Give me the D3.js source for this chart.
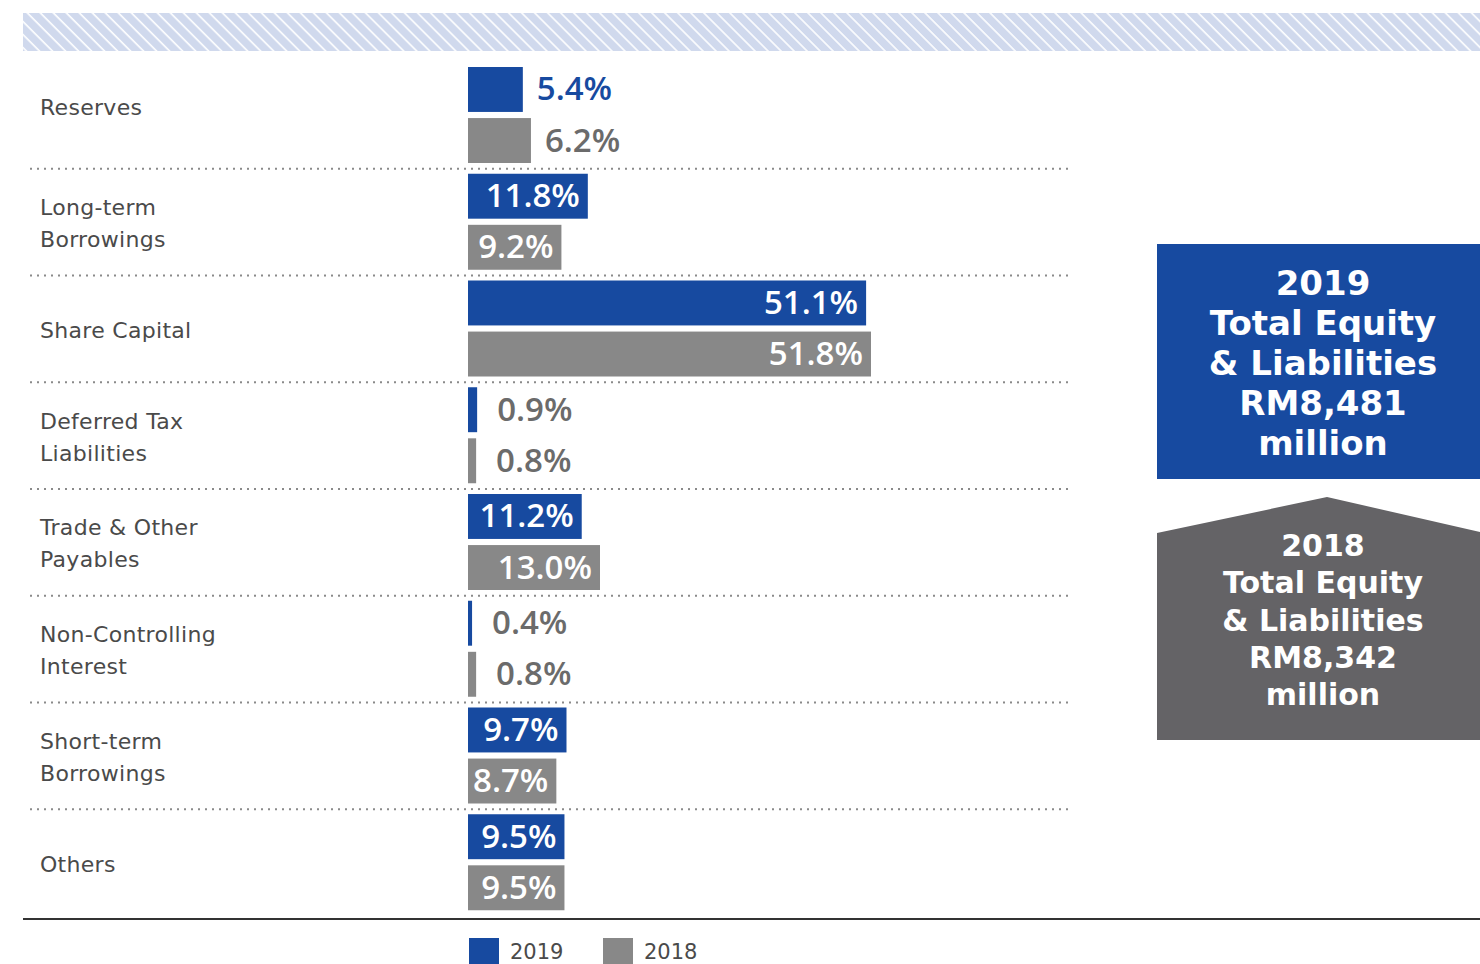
<!DOCTYPE html>
<html>
<head>
<meta charset="utf-8">
<script src="https://cdn.jsdelivr.net/npm/d3@7"></script>
<style>
  body { margin: 0; background: #fff; }
  svg { display: block; font-family: "DejaVu Sans", sans-serif; }
</style>
</head>
<body>
<div id="chart"></div>
<script>
// data
var categories = ["Reserves", "Long-term\nBorrowings", "Share Capital", "Deferred Tax\nLiabilities",
                  "Trade & Other\nPayables", "Non-Controlling\nInterest", "Short-term\nBorrowings", "Others"];
var values2019 = [5.4, 11.8, 51.1, 0.9, 11.2, 0.4, 9.7, 9.5];
var values2018 = [6.2, 9.2, 51.8, 0.8, 13.0, 0.8, 8.7, 9.5];
var years = ["2019", "2018"];
var totals = ["RM8,481", "RM8,342"];

var width = 1480, height = 964;
var blue = "#174aa0", grey = "#888888", dark = "#646366", labelGrey = "#6b6b6b";

var svg = d3.select("#chart").append("svg")
    .attr("width", width)
    .attr("height", height);

// hatched band on top
var defs = svg.append("defs");
var pat = defs.append("pattern")
    .attr("id", "hatch")
    .attr("patternUnits", "userSpaceOnUse")
    .attr("width", 9.2)
    .attr("height", 9.2)
    .attr("patternTransform", "rotate(-45)");
pat.append("rect").attr("width", 9.2).attr("height", 9.2).attr("fill", "#d0d9ed");
pat.append("line").attr("x1", 1).attr("x2", 1).attr("y1", 0).attr("y2", 9.2)
    .attr("stroke", "#fff").attr("stroke-width", 1.6);

svg.append("rect")
    .attr("x", 23).attr("y", 13)
    .attr("width", width - 23).attr("height", 38)
    .attr("fill", "url(#hatch)");

// scales
var y = d3.scaleBand().domain(categories).range([62, 916]);
var ySub = d3.scaleBand().domain(years).range([5, 101]).paddingInner(0.12);
// the original artwork stretches the small bars, so the scale is piecewise
var x = d3.scaleLinear().domain([0, 13, 51.8]).range([468, 600, 871]);

var fmt = function(v) { return d3.format(".1f")(v) + "%"; };

// dotted separators
svg.selectAll(".sep")
  .data(categories.slice(1))
  .enter().append("line")
    .attr("class", "sep")
    .attr("x1", 30).attr("x2", 1072)
    .attr("y1", function(d) { return y(d); })
    .attr("y2", function(d) { return y(d); })
    .attr("stroke", "#8a8a8a")
    .attr("stroke-width", 2)
    .attr("stroke-dasharray", "2,5");

// category labels
var lab = svg.selectAll(".cat")
  .data(categories)
  .enter().append("text")
    .attr("class", "cat")
    .attr("x", 40)
    .attr("fill", "#4a4a4a")
    .style("font-size", "22px")
    .style("letter-spacing", "0.3px");

lab.each(function(d, k) {
  var lines = d.split("\n");
  // first row label sits a little higher in the original
  var cy = y(d) + y.bandwidth() / 2 + (k === 0 ? -8 : 1);
  var t = d3.select(this);
  lines.forEach(function(l, i) {
    t.append("tspan")
      .attr("x", 40)
      .attr("y", cy + (i - (lines.length - 1) / 2) * 32 + 8)
      .text(l);
  });
});

// bars
var rows = categories.map(function(c, i) {
  return [
    {cat: c, year: "2019", value: values2019[i]},
    {cat: c, year: "2018", value: values2018[i]}
  ];
});
var flat = [].concat.apply([], rows);

svg.selectAll(".bar")
  .data(flat)
  .enter().append("rect")
    .attr("class", "bar")
    .attr("x", x(0))
    .attr("y", function(d) { return y(d.cat) + ySub(d.year); })
    .attr("width", function(d) { return x(d.value) - x(0); })
    .attr("height", ySub.bandwidth())
    .attr("fill", function(d) { return d.year === "2019" ? blue : grey; });

// value labels
svg.selectAll(".val")
  .data(flat)
  .enter().append("text")
    .attr("class", "val")
    .attr("x", function(d) {
      return d.value > 8 ? x(d.value) - 8 : x(d.value) + (d.value > 2 ? 14 : 20);
    })
    .attr("y", function(d) { return y(d.cat) + ySub(d.year) + ySub.bandwidth() / 2 + 11; })
    .attr("text-anchor", function(d) { return d.value > 8 ? "end" : "start"; })
    .attr("fill", function(d) {
      if (d.value > 8) return "#fff";
      return (d.year === "2019" && d.value > 2) ? blue : labelGrey;
    })
    .style("font-family", "'Open Sans', sans-serif")
    .style("font-size", "33px")
    .style("font-weight", "600")
    .text(function(d) { return fmt(d.value); });

// bottom rule
svg.append("line")
    .attr("x1", 23).attr("x2", width)
    .attr("y1", 919).attr("y2", 919)
    .attr("stroke", "#333").attr("stroke-width", 2);

// legend
var legend = svg.selectAll(".leg")
  .data(years)
  .enter().append("g")
    .attr("class", "leg")
    .attr("transform", function(d, i) { return "translate(" + (469 + i * 134) + ",938)"; });
legend.append("rect")
    .attr("width", 30).attr("height", 26)
    .attr("fill", function(d, i) { return i === 0 ? blue : grey; });
legend.append("text")
    .attr("x", 41).attr("y", 21)
    .attr("fill", "#4a4a4a")
    .style("font-size", "21px")
    .text(function(d) { return d; });

// 2019 total box
svg.append("rect")
    .attr("x", 1157).attr("y", 244)
    .attr("width", width - 1157).attr("height", 235)
    .attr("fill", blue);

var lines2019 = [years[0], "Total Equity", "& Liabilities", totals[0], "million"];
svg.selectAll(".t19")
  .data(lines2019)
  .enter().append("text")
    .attr("class", "t19")
    .attr("x", 1323)
    .attr("y", function(d, i) { return 295 + i * 40; })
    .attr("text-anchor", "middle")
    .attr("fill", "#fff")
    .style("font-size", "34px")
    .style("font-weight", "bold")
    .text(function(d) { return d; });

// 2018 total box (house shape)
var house = [[1157, 533], [1327, 497], [1480, 532], [1480, 740], [1157, 740]];
svg.append("path")
    .attr("d", d3.line()(house) + "Z")
    .attr("fill", dark);

var lines2018 = [years[1], "Total Equity", "& Liabilities", totals[1], "million"];
svg.selectAll(".t18")
  .data(lines2018)
  .enter().append("text")
    .attr("class", "t18")
    .attr("x", 1323)
    .attr("y", function(d, i) { return 556 + i * 37.3; })
    .attr("text-anchor", "middle")
    .attr("fill", "#fff")
    .style("font-size", "30px")
    .style("font-weight", "bold")
    .text(function(d) { return d; });
</script>
</body>
</html>
